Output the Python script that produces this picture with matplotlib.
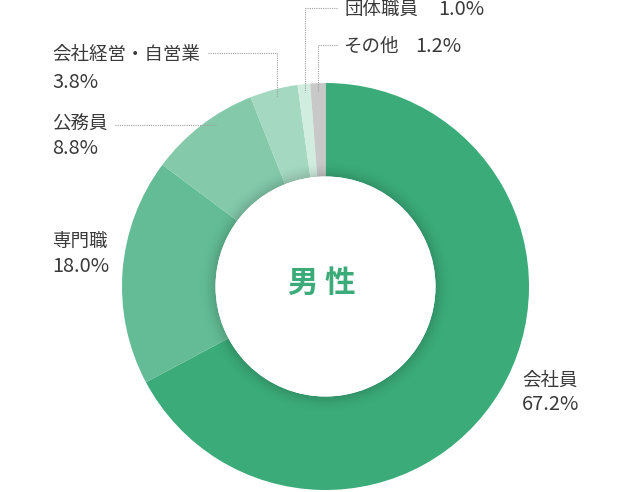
import matplotlib
matplotlib.use("Agg")
import matplotlib.pyplot as plt
from matplotlib.patches import Wedge, Circle
import numpy as np

categories = ["会社員", "専門職", "公務員", "会社経営・自営業", "団体職員", "その他"]
values = [67.2, 18.0, 8.8, 3.8, 1.0, 1.2]
pct_labels = ["67.2%", "18.0%", "8.8%", "3.8%", "1.0%", "1.2%"]
colors = ["#3bab79", "#63bc95", "#83c9aa", "#a4d8c0", "#d0ede0", "#c8c8c8"]
center_label = "男性"

W, H = 630, 492
fig = plt.figure(figsize=(W / 100, H / 100), dpi=100)
ax = fig.add_axes([0, 0, 1, 1])

def Y(ypx):
    return H - ypx

cx, cy_px = 325.5, 286.5
cy = Y(cy_px)
R = 203.5
r_in = 110.0

wedges, _ = ax.pie(values, colors=colors, startangle=90, counterclock=False,
                   radius=R, center=(cx, cy),
                   wedgeprops=dict(width=R - r_in, linewidth=0))

# subtle inner shadow on the ring
for i in range(16):
    ax.add_patch(Wedge((cx, cy), r_in + i + 1, 0, 360, width=1.0,
                       facecolor="black", alpha=0.14 * (1 - i / 16) ** 2,
                       linewidth=0, zorder=3))
ax.add_patch(Circle((cx, cy), r_in, facecolor="white", edgecolor="none", zorder=4))

ax.set_xlim(0, W)
ax.set_ylim(0, H)
ax.set_aspect("equal")
ax.axis("off")

txt_col = "#3a3a3a"
jp = ["Noto Sans CJK JP", "DejaVu Sans"]
jp_size = 13.3
num_size = 14.4
line_kw = dict(color="#a0a0a0", lw=0.8, linestyle=(0, (1, 1)), zorder=5)

# mid angles (clockwise from top)
cum = np.cumsum([0] + values[:-1])
total = sum(values)
mid = [(c + v / 2) / total * 2 * np.pi for c, v in zip(cum, values)]

def anchor_x(i):
    return cx + 0.93 * R * np.sin(mid[i])

def ring_y_at_x(x):
    dx = x - cx
    return cy + np.sqrt((0.96 * R) ** 2 - dx ** 2)

def ring_x_at_y(y):
    dy = y - cy
    return cx - np.sqrt((0.96 * R) ** 2 - dy ** 2)

def label2(x, y1, y2, i):
    ax.text(x, Y(y1), categories[i], fontsize=jp_size, family=jp, color=txt_col,
            ha="left", va="center")
    ax.text(x, Y(y2), pct_labels[i], fontsize=num_size, family=jp, color=txt_col,
            ha="left", va="center")

# 会社員
label2(522, 381, 405, 0)
# 専門職
label2(52, 242, 267, 1)
# 公務員
label2(52, 125, 148, 2)
yl = Y(125)
ax.plot([115, ring_x_at_y(yl)], [yl, yl], **line_kw)
# 会社経営・自営業
label2(52, 55, 82, 3)
xa = anchor_x(3)
ya = Y(53)
ax.plot([208, xa, xa], [ya, ya, ring_y_at_x(xa)], **line_kw)
# 団体職員
ax.text(345, Y(9.5), categories[4], fontsize=jp_size, family=jp, color=txt_col, ha="left", va="center")
ax.text(438, Y(9.5), pct_labels[4], fontsize=num_size, family=jp, color=txt_col, ha="left", va="center")
xa = anchor_x(4)
ya = Y(8)
ax.plot([337, xa, xa], [ya, ya, ring_y_at_x(xa)], **line_kw)
# その他
ax.text(343, Y(47), categories[5], fontsize=jp_size, family=jp, color=txt_col, ha="left", va="center")
ax.text(415, Y(47), pct_labels[5], fontsize=num_size, family=jp, color=txt_col, ha="left", va="center")
xa = anchor_x(5)
ya = Y(45)
ax.plot([337, xa, xa], [ya, ya, ring_y_at_x(xa)], **line_kw)

# center label
ax.text(302, Y(283), center_label[0], fontsize=22, family=jp, fontweight="bold",
        color="#3bab79", ha="center", va="center", zorder=6)
ax.text(340, Y(283), center_label[1], fontsize=22, family=jp, fontweight="bold",
        color="#3bab79", ha="center", va="center", zorder=6)

fig.savefig("out.png", dpi=100, facecolor="white")
